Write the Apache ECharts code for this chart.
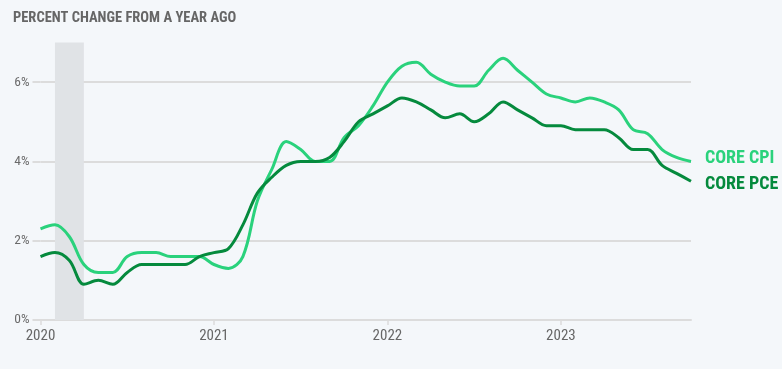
<!DOCTYPE html>
<html>
<head>
<meta charset="utf-8">
<script src="https://cdn.jsdelivr.net/npm/echarts@6/dist/echarts.min.js"></script>
<style>
html,body{margin:0;padding:0;background:#f4f7fa;}
#c{width:782px;height:369px;}
</style>
</head>
<body>
<div id="c"></div>
<script>
// months since Jan 2020 (0 = Jan 2020 ... 45 = Oct 2023)
const months = Array.from({length: 46}, (_, i) => i);
const coreCPI = [2.3,2.4,2.1,1.4,1.2,1.2,1.6,1.7,1.7,1.6,1.6,1.6,
                 1.4,1.3,1.6,3.0,3.8,4.5,4.3,4.0,4.0,4.6,4.9,5.4,
                 6.0,6.4,6.5,6.2,6.0,5.9,5.9,6.3,6.6,6.3,6.0,5.7,
                 5.6,5.5,5.6,5.5,5.3,4.8,4.7,4.3,4.1,4.0];
const corePCE = [1.6,1.7,1.5,0.9,1.0,0.9,1.2,1.4,1.4,1.4,1.4,1.6,
                 1.7,1.8,2.4,3.2,3.6,3.9,4.0,4.0,4.1,4.5,5.0,5.2,
                 5.4,5.6,5.5,5.3,5.1,5.2,5.0,5.2,5.5,5.3,5.1,4.9,
                 4.9,4.8,4.8,4.8,4.6,4.3,4.3,3.9,3.7,3.5];
const yearTicks = ['2020','2021','2022','2023'];
const yearTickMonths = [0, 12, 24, 36];
const yTicks = [0, 2, 4, 6];
const recession = [1, 3]; // Feb 2020 - Apr 2020
const seriesNames = ['CORE CPI','CORE PCE'];
const title = 'PERCENT CHANGE FROM A YEAR AGO';

const FONT = '"Roboto Condensed", "DejaVu Sans Condensed", "Liberation Sans Narrow", Roboto, sans-serif';
const cpiColor = '#2ad27c';
const pceColor = '#058a3d';

const chart = echarts.init(document.getElementById('c'));
chart.setOption({
  backgroundColor: '#f4f7fa',
  animation: false,
  title: {
    text: title, left: 13, top: 11, padding: 0,
    textStyle: {fontFamily: FONT, fontWeight: 'bold', fontSize: 14.5, color: '#666'}
  },
  grid: {left: 40.5, right: 91, top: 42.5, bottom: 49},
  xAxis: {
    type: 'value', min: 0, max: 45,
    axisLine: {show: true, lineStyle: {color: '#dcdcdc', width: 2}},
    axisTick: {show: true, length: 5, customValues: yearTickMonths, lineStyle: {color: '#dcdcdc', width: 1.5}},
    splitLine: {show: false},
    axisLabel: {
      margin: 9, fontFamily: FONT, fontSize: 15, color: '#666',
      customValues: yearTickMonths,
      formatter: v => yearTicks[Math.round(v / 12)] || ''
    }
  },
  yAxis: {
    type: 'value', min: 0, max: 7, interval: 2,
    axisLine: {show: false},
    axisTick: {show: true, length: 8, customValues: yTicks, lineStyle: {color: '#dcdcdc', width: 2}},
    splitLine: {show: true, lineStyle: {color: '#dcdcdc', width: 2}},
    axisLabel: {
      margin: 11, fontFamily: FONT, fontSize: 13.5, color: '#6a6a6a',
      customValues: yTicks,
      formatter: v => v + '%'
    }
  },
  series: [
    {
      name: seriesNames[0], type: 'line', smooth: 0.35, symbol: 'none', z: 3,
      data: months.map((m, i) => [m, coreCPI[i]]),
      lineStyle: {color: cpiColor, width: 3},
      markArea: {
        silent: true,
        itemStyle: {color: '#e0e3e6'},
        data: [[{xAxis: recession[0]}, {xAxis: recession[1]}]]
      },
      endLabel: {
        show: true, formatter: seriesNames[0], offset: [6, -3],
        fontFamily: FONT, fontWeight: 'bold', fontSize: 18, color: cpiColor
      }
    },
    {
      name: seriesNames[1], type: 'line', smooth: 0.35, symbol: 'none', z: 4,
      data: months.map((m, i) => [m, corePCE[i]]),
      lineStyle: {color: pceColor, width: 3},
      endLabel: {
        show: true, formatter: seriesNames[1], offset: [6, 3],
        fontFamily: FONT, fontWeight: 'bold', fontSize: 18, color: pceColor
      }
    }
  ]
});
</script>
</body>
</html>
